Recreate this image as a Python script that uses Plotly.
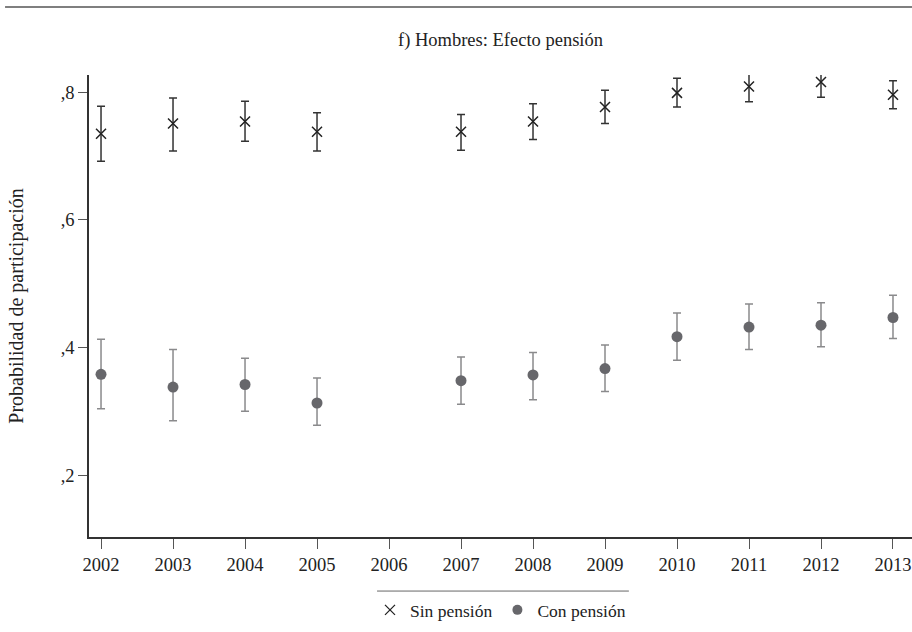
import plotly.graph_objects as go

years = ["2002", "2003", "2004", "2005", "2006", "2007", "2008", "2009", "2010", "2011", "2012", "2013"]

sin_est = [0.735, 0.751, 0.754, 0.738, None, 0.738, 0.754, 0.777, 0.799, 0.809, 0.816, 0.796]
sin_hi  = [0.778, 0.791, 0.786, 0.768, None, 0.765, 0.782, 0.803, 0.822, 0.831, 0.837, 0.818]
sin_lo  = [0.692, 0.708, 0.723, 0.708, None, 0.709, 0.726, 0.751, 0.777, 0.785, 0.792, 0.774]

con_est = [0.358, 0.338, 0.342, 0.313, None, 0.348, 0.357, 0.367, 0.417, 0.432, 0.435, 0.447]
con_hi  = [0.413, 0.397, 0.383, 0.352, None, 0.385, 0.392, 0.404, 0.454, 0.468, 0.470, 0.482]
con_lo  = [0.304, 0.285, 0.300, 0.278, None, 0.311, 0.318, 0.331, 0.380, 0.397, 0.401, 0.414]

ytick_vals = [0.2, 0.4, 0.6, 0.8]
ytick_text = [",2", ",4", ",6", ",8"]

title_text = "f) Hombres: Efecto pensión"
ytitle = "Probabilidad de participación"
names = ["Sin pensión", "Con pensión"]

def plus(est, hi):
    return [None if e is None else h - e for e, h in zip(est, hi)]

def minus(est, lo):
    return [None if e is None else e - l for e, l in zip(est, lo)]

FONT = "Liberation Serif"
fig = go.Figure()

fig.add_trace(go.Scatter(
    x=years, y=sin_est, mode="markers", showlegend=False,
    marker=dict(symbol="x-thin", size=10, line=dict(width=1.5, color="#222222"), color="#222222"),
    error_y=dict(type="data", symmetric=False, array=plus(sin_est, sin_hi),
                 arrayminus=minus(sin_est, sin_lo), color="#333333", thickness=1.5, width=4),
))
fig.add_trace(go.Scatter(
    x=years, y=con_est, mode="markers", showlegend=False,
    marker=dict(symbol="circle", size=11, color="#67676b"),
    error_y=dict(type="data", symmetric=False, array=plus(con_est, con_hi),
                 arrayminus=minus(con_est, con_lo), color="#8a8a8c", thickness=1.5, width=4),
))
# legend entries
fig.add_trace(go.Scatter(x=[None], y=[None], mode="markers", name=names[0],
    marker=dict(symbol="x-thin", size=10, line=dict(width=1.3, color="#222222"), color="#222222")))
fig.add_trace(go.Scatter(x=[None], y=[None], mode="markers", name=names[1],
    marker=dict(symbol="circle", size=10, color="#67676b")))

fig.update_layout(
    width=912, height=632,
    margin=dict(l=89, r=0, t=75, b=95),
    paper_bgcolor="white", plot_bgcolor="white",
    font=dict(family=FONT, size=18, color="#222222"),
    title=dict(text=title_text, x=0.5, xanchor="center", xref="paper",
               y=1 - 40 / 632, yanchor="middle", font=dict(family=FONT, size=18.5, color="#222222")),
    showlegend=True,
    legend=dict(orientation="h", x=0.5, xanchor="center", y=-0.158, yanchor="middle",
                font=dict(family=FONT, size=17.5, color="#222222"), itemwidth=30,
                tracegroupgap=0, bgcolor="rgba(0,0,0,0)"),
    xaxis=dict(type="category", categoryorder="array", categoryarray=years,
               range=[-0.167, 11.264], showgrid=False, zeroline=False,
               showline=True, linecolor="#333333", linewidth=1.5,
               ticks="outside", ticklen=10, tickcolor="#555555", tickwidth=1,
               tickfont=dict(family=FONT, size=18.5, color="#222222")),
    yaxis=dict(range=[0.103, 0.827], tickvals=ytick_vals, ticktext=ytick_text,
               showgrid=False, zeroline=False,
               showline=True, linecolor="#333333", linewidth=1.5,
               ticks="outside", ticklen=9, tickcolor="#555555", tickwidth=1,
               tickfont=dict(family=FONT, size=18.5, color="#222222"),
               title=dict(text=ytitle, font=dict(family=FONT, size=20, color="#222222"), standoff=32)),
    shapes=[
        dict(type="line", xref="paper", yref="paper", x0=-0.102, x1=1.0, y0=1.147, y1=1.147,
             line=dict(color="#555555", width=1.5)),
        dict(type="line", xref="paper", yref="paper", x0=0.35, x1=0.656, y0=-0.117, y1=-0.117,
             line=dict(color="#666666", width=1)),
    ],
)

fig.write_html("out.html")
